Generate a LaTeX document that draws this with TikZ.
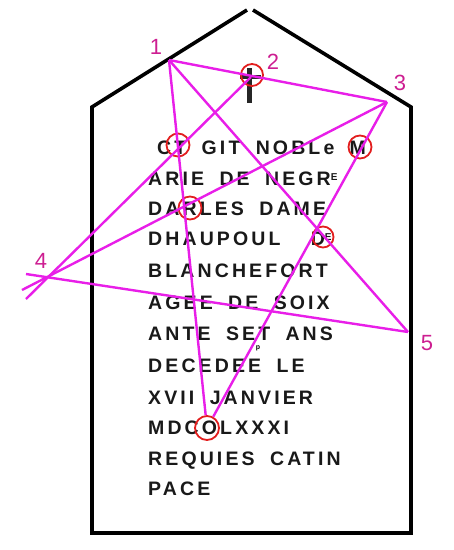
\documentclass[tikz,border=0pt]{standalone}
\usepackage{fontspec}
\setmainfont{Liberation Sans}
\newfontfamily\stonefont[LetterSpace=16,WordSpace=1.8]{Liberation Sans Bold}
\newcommand{\supE}{\raisebox{4.5pt}{\fontsize{10}{10}\selectfont E}}
\definecolor{linemag}{RGB}{232,30,232}
\definecolor{circred}{RGB}{226,30,30}
\definecolor{labmag}{RGB}{205,30,145}
\begin{document}
\begin{tikzpicture}[x=1pt,y=-1pt,
  stone/.style={line width=3.6pt,black,line join=miter},
  txt/.style={anchor=base west,inner sep=0pt,font=\stonefont\fontsize{19.5}{19.5}\selectfont,text=black!90},
  ring/.style={circle,draw=circred,line width=1.8pt,minimum size=23pt,inner sep=0pt},
  mline/.style={linemag,line width=2.4pt},
  lab/.style={text=labmag,font=\fontsize{22}{22}\selectfont,inner sep=0pt}]
\useasboundingbox (0,0) rectangle (454,550);
% stone outline
\draw[stone] (247,10) -- (92,107) -- (92,533) -- (411,533) -- (411,107) -- (253,10);
% cross
\fill[black!85] (246.5,68) rectangle (251.5,103);
\fill[black!85] (240,75) rectangle (261,79);
% inscription
\node[txt] (l1) at (157,154) {CT GIT NOBLe M};
\node[txt] (l2) at (148,185) {ARIE DE NEGR\supE};
\node[txt] (l3) at (148,215) {DARLES DAME};
\node[txt] (l4) at (148,245) {DHAUPOUL\hspace{15pt} D\supE};
\node[txt] (l5) at (148,277) {BLANCHEFORT};
\node[txt] (l6) at (148,309) {AGEE DE SOIX};
\node[txt] (l7) at (148,340) {ANTE SET ANS};
\node[txt] (l8) at (148,372) {DECEDEE LE};
\node[txt] (l9) at (148,404) {XVII JANVIER};
\node[txt] (l10) at (148,434) {MDCOLXXXI};
\node[txt] (l11) at (148,465) {REQUIES CATIN};
\node[txt] (l12) at (148,495) {PACE};
\node[inner sep=0pt,font=\bfseries\fontsize{7}{7}\selectfont] (pmark) at (258,348) {p};
% red circles
\node[ring] (cT) at (178,145) {};
\node[ring] (cM) at (360,147) {};
\node[ring] (cR) at (190,208) {};
\node[ring,minimum size=21pt] (cE) at (323,237) {};
\node[ring,minimum size=24pt] (cO) at (207,428) {};
\node[ring,minimum size=22pt] (c2) at (252,75) {};
% points
\coordinate (p1) at (169,60);
\coordinate (p2) at (251,77);
\coordinate (p3) at (387,102);
\coordinate (p4) at (48,277);
\coordinate (p5) at (408,332);
\coordinate (e42) at (26,299);
\coordinate (e43) at (22,290);
\coordinate (e45) at (26,274);
% construction lines
\draw[mline] (p1) -- (p3);
\draw[mline] (p1) -- (cO);
\draw[mline] (p1) -- (p5);
\draw[mline] (p3) -- (cO);
\draw[mline] (e42) -- (p2);
\draw[mline] (e43) -- (p3);
\draw[mline] (e45) -- (p5);
% labels
\node[lab] (n1) at (156,47) {1};
\node[lab] (n2) at (273,62) {2};
\node[lab] (n3) at (400,83) {3};
\node[lab] (n4) at (41,261) {4};
\node[lab] (n5) at (427,343) {5};
\end{tikzpicture}
\end{document}
